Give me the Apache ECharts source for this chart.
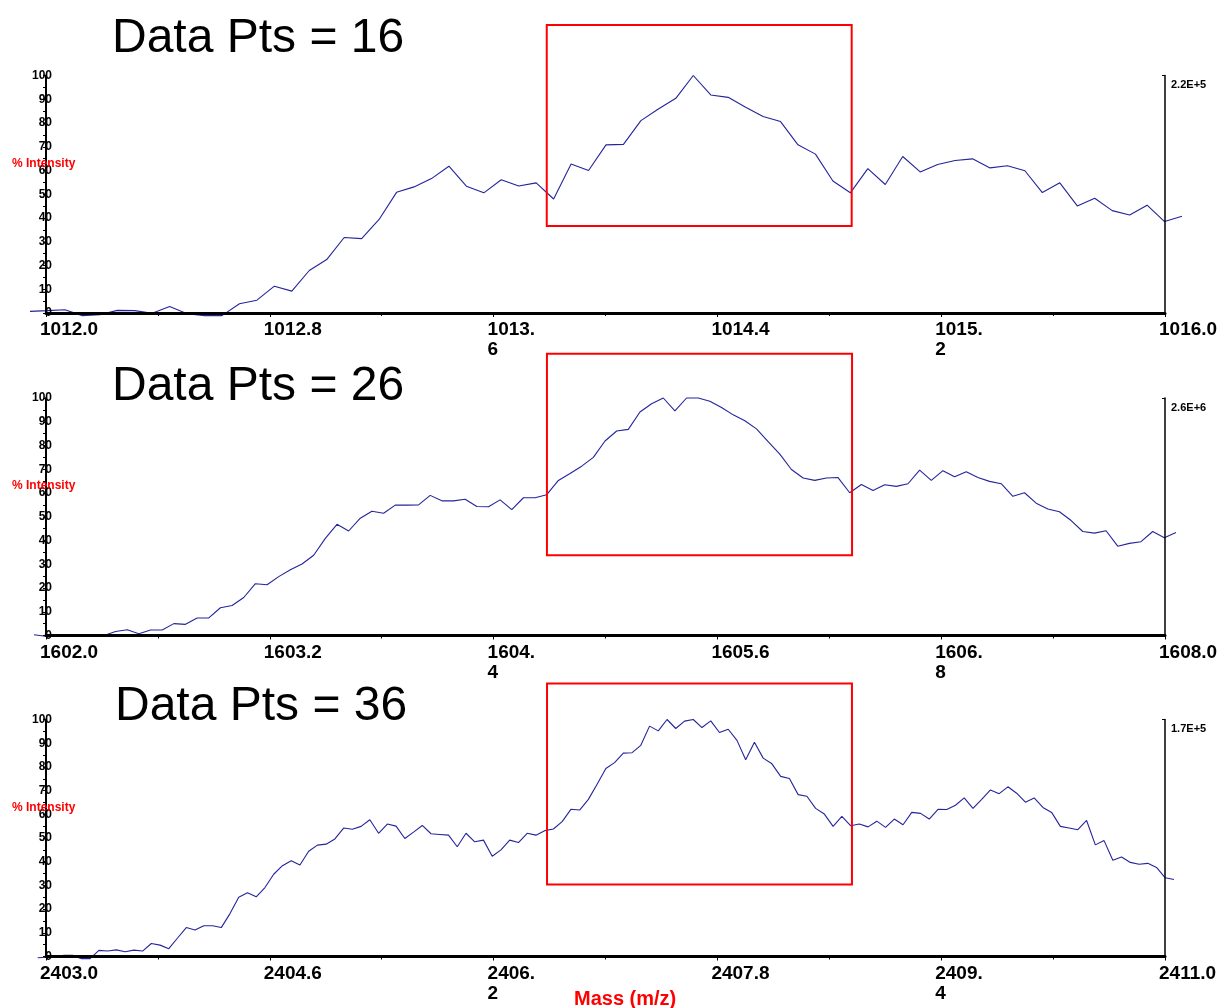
<!DOCTYPE html>
<html><head><meta charset="utf-8">
<script src="https://cdn.jsdelivr.net/npm/echarts@6/dist/echarts.min.js"></script>
<style>html,body{margin:0;padding:0;background:#fff}#c{width:1222px;height:1008px}</style>
</head><body><div id="c"></div>
<script>
// ---------- data ----------
const titles = ['Data Pts = 16', 'Data Pts = 26', 'Data Pts = 36'];
const mzRanges = [[1012.0, 1016.0], [1602.0, 1608.0], [2403.0, 2411.0]];
const mzIntervals = [0.8, 1.2, 1.6];
const mz1Ticks = ['1012.0', '1012.8', '1013.\n6', '1014.4', '1015.\n2', '1016.0'];
const mz2Ticks = ['1602.0', '1603.2', '1604.\n4', '1605.6', '1606.\n8', '1608.0'];
const mz3Ticks = ['2403.0', '2404.6', '2406.\n2', '2407.8', '2409.\n4', '2411.0'];
const yTickLabels = ['0', '10', '20', '30', '40', '50', '60', '70', '80', '90', '100'];
const scaleLabels = ['2.2E+5', '2.6E+6', '1.7E+5'];
const yName = '% Intensity';
const xName = 'Mass (m/z)';

const intens1 = [0.7, 1.0, 1.4, -1.1, -0.7, 1.1, 1.0, -0.1, 2.7, -0.3, -1.1, -1.1, 3.9, 5.4, 11.3, 9.2, 17.9, 22.5, 31.8, 31.3,
  39.4, 50.8, 53.1, 56.6, 61.8, 53.4, 50.6, 56.1, 53.5, 54.8, 48.0, 62.7, 60.0, 70.8, 71.0, 81.0, 85.9, 90.4, 100, 91.8,
  90.8, 86.6, 82.7, 80.6, 70.8, 66.9, 55.6, 50.6, 60.8, 54.1, 65.9, 59.4, 62.5, 64.2, 64.9, 61.1, 62.0, 59.9, 50.7, 54.8,
  45.1, 48.3, 43.1, 41.3, 45.4, 38.5, 40.7];
const intens2 = [0.3, -0.3, -0.4, 0, -0.1, -0.4, 0, 1.7, 2.4, 0.7, 2.3, 2.3, 5.0, 4.7, 7.4, 7.4, 11.7, 12.6, 16.0, 21.8,
  21.4, 24.8, 27.7, 30.1, 33.8, 40.9, 46.8, 44.0, 49.4, 52.3, 51.5, 54.9, 54.9, 55.0, 59.0, 56.7, 56.7, 57.4, 54.3, 54.2,
  57.1, 53.0, 58.0, 58.0, 59.3, 65.3, 68.2, 71.3, 75.0, 81.9, 86.1, 86.8, 94.1, 97.6, 100, 94.6, 100, 100, 98.6, 96.0,
  92.9, 90.4, 87.0, 81.6, 76.4, 69.9, 66.3, 65.3, 66.3, 66.5, 60.1, 63.6, 61.1, 63.5, 62.8, 63.9, 69.6, 65.3, 69.4, 66.8,
  68.9, 66.5, 64.9, 63.9, 58.6, 60.1, 55.7, 53.3, 52.1, 48.4, 43.8, 43.1, 44.1, 37.6, 38.8, 39.5, 43.8, 41.2, 43.4];
const intens3 = [-0.5, -0.3, -0.3, 0.5, 0.5, -0.9, -0.9, 2.6, 2.3, 2.8, 2.0, 2.7, 2.3, 5.5, 4.8, 3.3, 7.8, 12.2, 11.2, 13.0,
  13.0, 12.2, 18.1, 25.0, 26.9, 25.2, 29.1, 34.7, 38.3, 40.4, 38.6, 44.4, 47.0, 47.4, 49.6, 54.2, 53.7, 54.9, 57.7, 52.0,
  55.9, 55.0, 49.8, 52.5, 55.3, 51.8, 51.5, 51.2, 46.3, 52.0, 48.4, 49.1, 42.3, 45.0, 49.1, 48.1, 52.0, 51.2, 53.1, 53.8,
  56.9, 62.1, 61.8, 66.3, 72.7, 79.3, 81.8, 85.8, 86.0, 89.1, 97.2, 95.2, 100, 96.2, 99.3, 100, 96.6, 99.4, 94.5, 95.9,
  91.2, 83.0, 90.4, 83.7, 81.3, 76.0, 75.1, 68.3, 67.6, 62.5, 60.1, 54.9, 59.1, 55.2, 55.9, 54.7, 57.1, 54.5, 58.0, 55.6,
  60.8, 60.4, 58.0, 62.1, 62.0, 63.8, 66.9, 62.5, 66.3, 70.3, 68.7, 71.6, 68.9, 65.1, 66.9, 62.9, 60.8, 54.9, 54.2, 53.5,
  57.4, 47.1, 48.9, 40.6, 42.0, 39.7, 38.9, 39.3, 37.6, 33.2, 32.5];

// highlight boxes in axis units: [mzFrom, mzTo, intensityLow, intensityHigh]
const box1 = [1013.79, 1014.88, 36.6, 121.3];
const box2 = [1604.686, 1606.322, 33.8, 118.6];
const box3 = [2406.582, 2408.762, 30.4, 115.2];

// ---------- layout ----------
const tickSets = [mz1Ticks, mz2Ticks, mz3Ticks];
const seriesSets = [intens1, intens2, intens3];
const boxes = [box1, box2, box3];
const layout = [
  { top: 75.5, bottom: 313, lineLeft: 30, lineRight: 1182, titleLeft: 112, titleTop: 15, nameTop: 158 },
  { top: 398, bottom: 635.5, lineLeft: 34, lineRight: 1176, titleLeft: 112, titleTop: 363, nameTop: 480 },
  { top: 719.5, bottom: 956.5, lineLeft: 37.7, lineRight: 1174, titleLeft: 115, titleTop: 683, nameTop: 802 }
];
const FONT = '"Liberation Sans", Arial, Helvetica, sans-serif';
const RED = '#ff0000';
const LINE = '#24249c';

const chart = echarts.init(document.getElementById('c'), null, { renderer: 'canvas' });
const grid = [], xAxis = [], yAxis = [], series = [], title = [];

layout.forEach((L, i) => {
  const h = L.bottom - L.top;
  const [mn, mx] = mzRanges[i];
  const itv = mzIntervals[i];
  const ticks = tickSets[i];
  const data = seriesSets[i];
  grid.push({ left: 46, width: 1119, top: L.top, height: h });
  grid.push({ left: L.lineLeft, width: L.lineRight - L.lineLeft, top: L.top, height: h });
  xAxis.push({
    gridIndex: 2 * i, type: 'value', min: mn, max: mx, interval: itv, z: 5,
    axisLine: { show: true, lineStyle: { color: '#000', width: 3 } },
    axisTick: { show: true, length: 4, lineStyle: { color: '#000', width: 1 } },
    minorTick: { show: true, splitNumber: 2, length: 3, lineStyle: { color: '#000', width: 1 } },
    splitLine: { show: false },
    axisLabel: {
      formatter: v => ticks[Math.round((v - mn) / itv)] || '',
      align: 'left', padding: [0, 0, 0, -6], margin: 7, lineHeight: 20,
      fontSize: 19, fontWeight: 'bold', color: '#000', fontFamily: FONT,
      showMinLabel: true, showMaxLabel: true, hideOverlap: false
    }
  });
  xAxis.push({ gridIndex: 2 * i + 1, type: 'value', min: 0, max: data.length - 1, show: false });
  yAxis.push({
    gridIndex: 2 * i, type: 'value', min: 0, max: 100, interval: 10, position: 'left', z: 5,
    axisLine: { show: true, lineStyle: { color: '#000', width: 2 } },
    axisTick: { show: true, length: 3, lineStyle: { color: '#000', width: 1 } },
    minorTick: { show: true, splitNumber: 2, length: 3, lineStyle: { color: '#000', width: 1 } },
    splitLine: { show: false },
    axisLabel: {
      formatter: v => yTickLabels[Math.round(v / 10)] || '', margin: -6,
      fontSize: 12, fontWeight: 'bold', color: '#000', fontFamily: FONT
    }
  });
  yAxis.push({
    gridIndex: 2 * i, type: 'value', min: 0, max: 100, interval: 100, position: 'right', z: 5,
    axisLine: { show: true, lineStyle: { color: '#000', width: 1.5 } },
    axisTick: { show: true, inside: true, length: 3, lineStyle: { color: '#000', width: 1 } },
    splitLine: { show: false },
    axisLabel: {
      formatter: v => (v === 100 ? scaleLabels[i] : ''), verticalAlign: 'top', padding: [4, 0, 0, 0],
      margin: 6, fontSize: 11, fontWeight: 'bold', color: '#000', fontFamily: FONT
    }
  });
  yAxis.push({ gridIndex: 2 * i + 1, type: 'value', min: 0, max: 100, show: false });
  series.push({
    type: 'line', xAxisIndex: 2 * i + 1, yAxisIndex: 3 * i + 2,
    data: data.map((v, k) => [k, v]), showSymbol: false, clip: false, silent: true,
    lineStyle: { color: LINE, width: 1.1 }, z: 3
  });
  title.push({
    text: titles[i], left: L.titleLeft, top: L.titleTop, padding: 0,
    textStyle: { fontSize: 48, fontWeight: 'normal', color: '#000', fontFamily: FONT }
  });
  title.push({
    text: yName, left: 12, top: L.nameTop, padding: 0,
    textStyle: { fontSize: 12, fontWeight: 'bold', color: RED, fontFamily: FONT }
  });
});
title.push({
  text: xName, left: 574, top: 989, padding: 0,
  textStyle: { fontSize: 20, fontWeight: 'bold', color: RED, fontFamily: FONT }
});

chart.setOption({ animation: false, backgroundColor: '#fff', grid, xAxis, yAxis, series, title });

const graphic = boxes.map((b, i) => {
  const p0 = chart.convertToPixel({ xAxisIndex: 2 * i, yAxisIndex: 3 * i }, [b[0], b[3]]);
  const p1 = chart.convertToPixel({ xAxisIndex: 2 * i, yAxisIndex: 3 * i }, [b[1], b[2]]);
  return {
    type: 'rect', z: 20, silent: true,
    shape: { x: p0[0], y: p0[1], width: p1[0] - p0[0], height: p1[1] - p0[1] },
    style: { fill: 'none', stroke: RED, lineWidth: 2 }
  };
});
chart.setOption({ graphic });
</script>
</body></html>
